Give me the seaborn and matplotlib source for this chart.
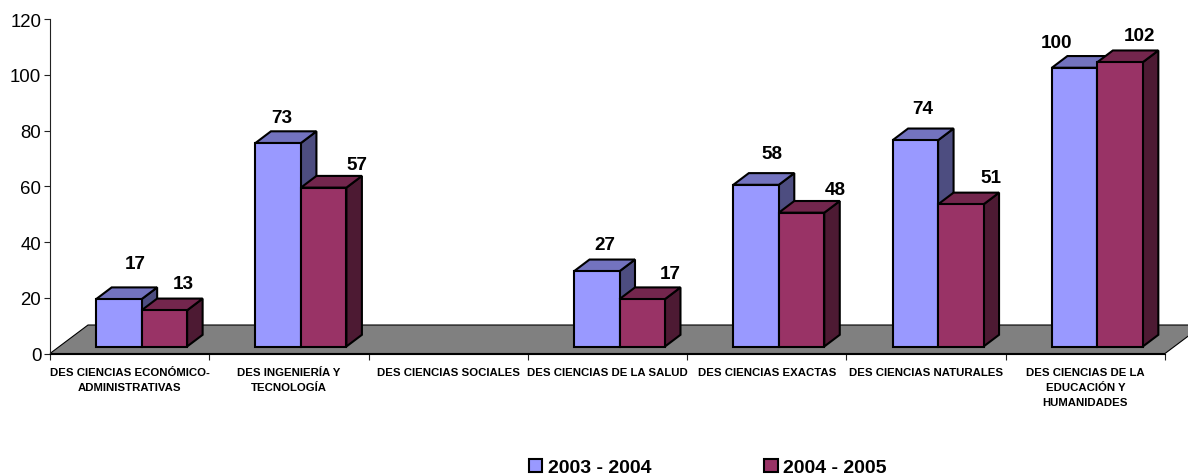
import numpy as np
import pandas as pd
import seaborn as sns
from matplotlib import pyplot as plt
from matplotlib.patches import Polygon

categorias = ['DES CIENCIAS ECONÓMICO-\nADMINISTRATIVAS', 'DES INGENIERÍA Y\nTECNOLOGÍA',
              'DES CIENCIAS SOCIALES', 'DES CIENCIAS DE LA SALUD', 'DES CIENCIAS EXACTAS',
              'DES CIENCIAS NATURALES', 'DES CIENCIAS DE LA\nEDUCACIÓN Y\nHUMANIDADES']
valores_2003 = [17, 73, np.nan, 27, 58, 74, 100]
valores_2004 = [13, 57, np.nan, 17, 48, 51, 102]
periodos = ['2003 - 2004', '2004 - 2005']
y_ticks = [0, 20, 40, 60, 80, 100, 120]

# pixel shift of each value label from the middle of the top of its bar, left to right
desplazamiento = [(16, 36), (19, 27), (4, 26), (33, 23), (8, 27), (28, 26),
                  (16, 31), (34, 23), (7, 32), (30, 27), (-18, 25), (19, 27)]

sns.set_style('white')
plt.rcParams['font.family'] = ['Liberation Sans', 'DejaVu Sans']

df = pd.DataFrame({
    'des': categorias * 2,
    'valor': valores_2003 + valores_2004,
    'periodo': [periodos[0]] * 7 + [periodos[1]] * 7,
})

fig = plt.figure(figsize=(11.88, 4.77), dpi=100)
ax = fig.add_axes([50 / 1188, 1 - 354.5 / 477, 1115 / 1188, 334.5 / 477])

colores = {periodos[0]: '#9999FF', periodos[1]: '#993366'}
sns.barplot(data=df, x='des', y='valor', hue='periodo', palette=colores, order=categorias,
            width=0.571, saturation=1, edgecolor='black', linewidth=1.5, ax=ax)

ax.set_xlim(-0.5, 6.5)
ax.set_ylim(0, 120)

# fake 3D: depth and offset of the bars, in data units
px_x = 7 / 1115
px_y = 120 / 334.5
fondo_x, fondo_y = 38 * px_x, 28.5 * px_y
prof_x, prof_y = 15.5 * px_x, 11.7 * px_y
base_x, base_y = 12 * px_x, 7 * px_y

# floor
ax.add_patch(Polygon([(-0.5, 0), (6.5, 0), (6.5 + fondo_x, fondo_y), (-0.5 + fondo_x, fondo_y)],
                     facecolor='#808080', edgecolor='black', linewidth=0.8, zorder=1, clip_on=False))

caras = {'#9999FF': ('#7373BF', '#4D4D80', 2), '#993366': ('#73264D', '#4D1A33', 5)}
barras = [p for p in ax.patches if isinstance(p, plt.Rectangle) and p.get_height() > 0]
barras = sorted(barras, key=lambda p: p.get_x())
for i, p in enumerate(barras):
    alto = p.get_height()
    p.set_x(p.get_x() + base_x)
    p.set_y(base_y)
    x0, x1 = p.get_x(), p.get_x() + p.get_width()
    y1 = base_y + alto
    hex_color = '#9999FF' if i % 2 == 0 else '#993366'
    arriba, lado, z = caras[hex_color]
    p.set_zorder(z + 1)
    ax.add_patch(Polygon([(x1, base_y), (x1 + prof_x, base_y + prof_y), (x1 + prof_x, y1 + prof_y), (x1, y1)],
                         facecolor=lado, edgecolor='black', linewidth=1.5, zorder=z, clip_on=False))
    ax.add_patch(Polygon([(x0, y1), (x1, y1), (x1 + prof_x, y1 + prof_y), (x0 + prof_x, y1 + prof_y)],
                         facecolor=arriba, edgecolor='black', linewidth=1.5, zorder=z, clip_on=False))
    dx, dy = desplazamiento[i]
    ax.annotate(f'{alto:.0f}', ((x0 + x1) / 2, y1), xytext=(dx * 0.72, dy * 0.72), textcoords='offset points',
                ha='center', va='center', fontsize=13.6, fontweight='bold', color='black', zorder=10,
                annotation_clip=False)

sns.despine(ax=ax)
ax.spines['left'].set_linewidth(0.8)
ax.spines['bottom'].set_linewidth(0.8)
ax.spines['left'].set_color('#222222')
ax.spines['bottom'].set_color('black')
ax.set_xlabel('')
ax.set_ylabel('')
ax.set_yticks(y_ticks)
ax.tick_params(axis='y', left=True, length=4.3, width=0.8, labelsize=13.4, pad=2, color='#222222', labelcolor='black')

ax.set_xticks(np.arange(7))
ax.set_xticklabels(categorias, fontsize=8.2, fontweight='bold', linespacing=1.62, color='black')
ax.set_xticks(np.arange(-0.5, 7, 1), minor=True)
ax.tick_params(axis='x', which='major', bottom=False, length=0, pad=9.6)
ax.tick_params(axis='x', which='minor', bottom=True, length=4.3, width=0.8, color='#222222')

handles = ax.get_legend_handles_labels()
leg = ax.legend(handles[0], handles[1], loc='center', bbox_to_anchor=(707.5 / 1188, 1 - 468.5 / 477),
                bbox_transform=fig.transFigure, ncol=2, frameon=False, borderpad=0, borderaxespad=0,
                prop={'size': 14, 'weight': 'bold'}, handlelength=0.7, handleheight=0.7,
                handletextpad=0.28, columnspacing=5.8, labelcolor='black')
leg.set_title(None)

plt.savefig('out.png', dpi=100)
